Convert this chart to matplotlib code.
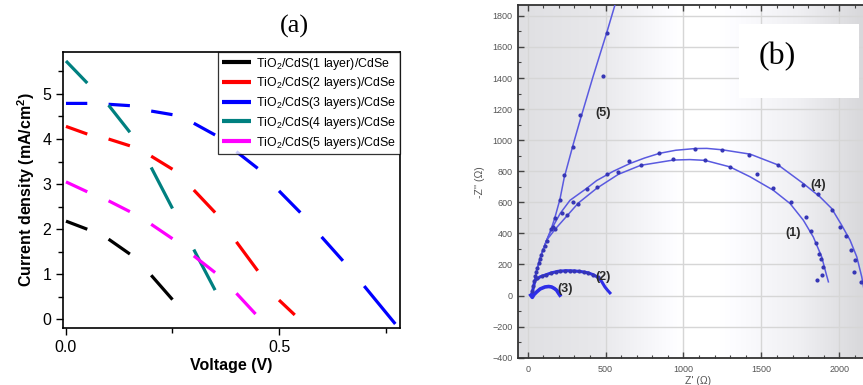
import numpy as np
import matplotlib
matplotlib.use("Agg")
import matplotlib.pyplot as plt
from matplotlib.ticker import MultipleLocator, FormatStrFormatter
from matplotlib.patches import Rectangle

plt.rcParams['font.family'] = ['Liberation Sans', 'DejaVu Sans']
plt.rcParams['mathtext.fontset'] = 'custom'
plt.rcParams['mathtext.rm'] = 'Liberation Sans'
plt.rcParams['mathtext.bf'] = 'Liberation Sans:bold'
plt.rcParams['mathtext.it'] = 'Liberation Sans:italic'

# ---------------- Panel (a): J-V data (segment endpoints, pairs) -------------
v_1 = [0.0, 0.05, 0.10, 0.15, 0.20, 0.25]
j_1 = [2.18, 2.00, 1.78, 1.45, 0.98, 0.44]
v_2 = [0.0, 0.05, 0.10, 0.15, 0.20, 0.25, 0.30, 0.35, 0.40, 0.45, 0.50, 0.537]
j_2 = [4.28, 4.11, 4.00, 3.85, 3.62, 3.33, 2.87, 2.37, 1.72, 1.08, 0.43, 0.10]
v_3 = [0.0, 0.05, 0.10, 0.15, 0.20, 0.25, 0.30, 0.35, 0.40, 0.45, 0.50, 0.55,
       0.60, 0.65, 0.70, 0.773]
j_3 = [4.79, 4.79, 4.77, 4.74, 4.62, 4.54, 4.35, 4.09, 3.72, 3.35, 2.85, 2.37,
       1.83, 1.30, 0.74, -0.10]
v_4 = [0.0, 0.05, 0.10, 0.15, 0.20, 0.25, 0.30, 0.35]
j_4 = [5.73, 5.24, 4.75, 4.15, 3.37, 2.46, 1.55, 0.65]
v_5 = [0.0, 0.05, 0.10, 0.15, 0.20, 0.25, 0.30, 0.35, 0.40, 0.445]
j_5 = [3.05, 2.83, 2.63, 2.39, 2.11, 1.79, 1.41, 1.04, 0.58, 0.12]

labels_a = [r'TiO$_\mathregular{2}$/CdS(1 layer)/CdSe',
            r'TiO$_\mathregular{2}$/CdS(2 layers)/CdSe',
            r'TiO$_\mathregular{2}$/CdS(3 layers)/CdSe',
            r'TiO$_\mathregular{2}$/CdS(4 layers)/CdSe',
            r'TiO$_\mathregular{2}$/CdS(5 layers)/CdSe']
colors_a = ['#000000', '#ff0000', '#0000ff', '#008080', '#ff00ff']

# ---------------- Panel (b): Nyquist data ----------------
fit5_x = [26, 58, 90, 122, 150, 175, 207, 235, 293, 340, 420, 507, 575]
fit5_y = [2, 163, 270, 356, 425, 502, 618, 760, 975, 1140, 1410, 1690, 1920]
pts5_x = [150, 175, 207, 235, 293, 336, 483, 507]
pts5_y = [425, 502, 618, 775, 957, 1165, 1411, 1693]

fit4_x = [26, 58, 90, 122, 160, 210, 272, 379, 443, 550, 657, 750, 845, 950,
          1074, 1150, 1249, 1428, 1608, 1769, 1876, 1951, 2015, 2069, 2112,
          2144, 2160]
fit4_y = [2, 163, 270, 356, 440, 530, 613, 690, 740, 800, 850, 885, 915, 935,
          946, 947, 938, 910, 840, 721, 635, 560, 453, 356, 249, 120, 30]
pts4_x = [160, 218, 293, 379, 510, 652, 845, 1074, 1249, 1422, 1604, 1769,
          1865, 1953, 2005, 2046, 2078, 2101, 2095, 2139]
pts4_y = [440, 528, 600, 686, 785, 864, 918, 946, 935, 907, 841, 711, 655,
          550, 443, 383, 290, 230, 151, 88]

fit1_x = [26, 58, 90, 122, 175, 250, 325, 443, 582, 725, 935, 1040, 1138,
          1298, 1428, 1576, 1684, 1769, 1833, 1887, 1915, 1930]
fit1_y = [2, 163, 270, 356, 425, 510, 595, 690, 780, 838, 872, 875, 870,
          828, 764, 678, 592, 485, 377, 249, 142, 88]
pts1_x = [30, 35, 42, 48, 55, 62, 70, 78, 88, 98, 110, 122, 175, 250, 325,
          443, 582, 725, 935, 1138, 1298, 1470, 1576, 1688, 1784, 1816, 1850,
          1872, 1883, 1897, 1887, 1859]
pts1_y = [30, 60, 95, 125, 150, 180, 210, 235, 262, 290, 320, 350, 425, 517,
          592, 699, 796, 841, 876, 871, 828, 781, 689, 599, 506, 414, 339,
          270, 238, 184, 131, 99]

fit2_x = [26, 47, 80, 111, 150, 196, 250, 304, 350, 389, 420, 453, 475, 496,
          512, 528]
fit2_y = [2, 98, 120, 131, 145, 156, 160, 158, 153, 146, 134, 116, 90, 55,
          35, 17]
pts2_x = [60, 90, 120, 150, 180, 210, 240, 270, 300, 330, 360, 390, 420, 450]
pts2_y = [110, 125, 135, 145, 152, 157, 159, 160, 158, 156, 151, 146, 135, 118]

fit3_x = [20, 30, 40, 58, 80, 111, 135, 154, 172, 186, 198, 207]
fit3_y = [2, -12, 5, 23, 42, 55, 58, 55, 45, 34, 15, 2]

curve_tags = ['(1)', '(2)', '(3)', '(4)', '(5)']
tag_x = [1705, 481, 240, 1865, 486]
tag_y = [403, 116, 43, 710, 1175]

# ---------------- Figure ----------------
fig = plt.figure(figsize=(8.63, 3.85), dpi=100)

# ----- panel (a)
axa = fig.add_axes([0.073, 0.148, 0.3905, 0.717])


def pairs(v, j):
    xs, ys = [], []
    for k in range(0, len(v) - 1, 2):
        xs += [v[k], v[k + 1], np.nan]
        ys += [j[k], j[k + 1], np.nan]
    return xs, ys


for v, j, c, lab in zip([v_1, v_2, v_3, v_4, v_5], [j_1, j_2, j_3, j_4, j_5],
                        colors_a, labels_a):
    xs, ys = pairs(v, j)
    axa.plot(xs, ys, color=c, lw=2.3, solid_capstyle='butt', label=lab)

axa.set_xlim(-0.007, 0.784)
axa.set_ylim(-0.19, 5.93)
axa.xaxis.set_major_locator(MultipleLocator(0.5))
axa.xaxis.set_minor_locator(MultipleLocator(0.25))
axa.yaxis.set_major_locator(MultipleLocator(1))
axa.yaxis.set_minor_locator(MultipleLocator(0.5))
axa.xaxis.set_major_formatter(FormatStrFormatter('%.1f'))
axa.yaxis.set_major_formatter(FormatStrFormatter('%d'))
axa.tick_params(which='both', direction='out', labelsize=11.5, width=1)
axa.tick_params(which='major', length=5)
axa.tick_params(which='minor', length=3.5)
for s in axa.spines.values():
    s.set_linewidth(1.2)
axa.set_xlabel('Voltage (V)', fontsize=11.5, fontweight='bold', labelpad=2)
axa.set_ylabel(r'Current density (mA/cm$^\mathbf{2}$)', fontsize=11.5,
               fontweight='bold', labelpad=4)
leg = axa.legend(loc='upper right', fontsize=8.9, frameon=True, fancybox=False,
                 edgecolor='black', borderaxespad=0.0, handlelength=2.3,
                 labelspacing=0.3, borderpad=0.3, handletextpad=0.45)
leg.get_frame().set_linewidth(0.9)
for ln in leg.get_lines():
    ln.set_linewidth(3)
fig.text(0.341, 0.932, '(a)', fontsize=19, family='Liberation Serif',
         ha='center', va='center')

# ----- panel (b)
axb = fig.add_axes([0.6002, 0.069, 0.4175, 0.918])
g = np.linspace(0, 1, 400)
shade = np.interp(g, [0, 0.22, 0.45, 0.56, 0.78, 0.95, 1.0],
                  [0.875, 0.91, 1.0, 1.0, 0.94, 0.85, 0.84])
img = np.dstack([shade, shade, np.clip(shade + 0.012, 0, 1)])
axb.imshow(img, extent=[0, 1, 0, 1], transform=axb.transAxes, aspect='auto',
           zorder=0, interpolation='bilinear')
axb.set_xlim(-62, 2250)
axb.set_ylim(-405, 1870)
axb.set_axisbelow(True)
axb.grid(True, which='major', color='#d6d6d6', lw=1.0, zorder=0.5)

line_c = '#5a5ae0'
dot_c = '#3535b5'
axb.plot(fit5_x, fit5_y, color=line_c, lw=1.1, zorder=3)
axb.plot(fit4_x, fit4_y, color=line_c, lw=1.1, zorder=3)
axb.plot(fit1_x, fit1_y, color=line_c, lw=1.1, zorder=3)
axb.plot(fit2_x, fit2_y, color='#2e2ee8', lw=2.2, zorder=3)
axb.plot(fit3_x, fit3_y, color='#2e2ee8', lw=2.6, zorder=3)
for px, py in [(pts5_x, pts5_y), (pts4_x, pts4_y), (pts1_x, pts1_y),
               (pts2_x, pts2_y)]:
    axb.plot(px, py, ls='none', marker='o', ms=2.0, color=dot_c, zorder=4)
for t, x, y in zip(curve_tags, tag_x, tag_y):
    axb.text(x, y, t, fontsize=9, fontweight='bold', color='#2a2a2a',
             ha='center', va='center', zorder=5)

axb.xaxis.set_major_locator(MultipleLocator(500))
axb.xaxis.set_minor_locator(MultipleLocator(100))
axb.yaxis.set_major_locator(MultipleLocator(200))
axb.yaxis.set_minor_locator(MultipleLocator(100))
axb.tick_params(which='both', direction='in', top=True, right=False,
                labelsize=6.5, labelcolor='#555555', color='#444444')
axb.tick_params(which='major', length=4, width=1)
axb.tick_params(which='minor', length=2.5, width=0.8)
axb.tick_params(axis='y', pad=4)
axb.tick_params(axis='x', pad=5)
for s in axb.spines.values():
    s.set_linewidth(1.3)
    s.set_color('#333333')
axb.set_xlabel("Z' (\u03a9)", fontsize=7.5, color='#555555', labelpad=1)
axb.set_ylabel("-Z'' (\u03a9)", fontsize=7.5, color='#555555', labelpad=5)

axb.add_patch(Rectangle((0.613, 0.737), 0.333, 0.209, transform=axb.transAxes,
                        facecolor='white', edgecolor='none', zorder=6))
axb.text(0.719, 0.853, '(b)', transform=axb.transAxes, fontsize=23,
         family='Liberation Serif', ha='center', va='center', zorder=7)

fig.savefig('out.png', dpi=100)
